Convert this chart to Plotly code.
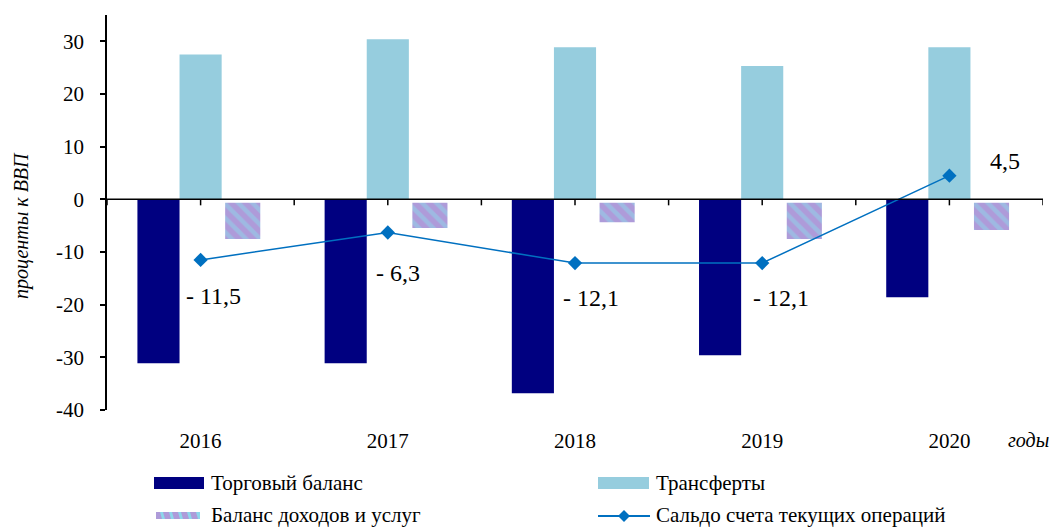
import plotly.graph_objects as go

# ---- data ----
years = ['2016', '2017', '2018', '2019', '2020']
trade_balance = [-31.1, -31.1, -36.8, -29.6, -18.6]
transfers = [27.5, 30.4, 28.9, 25.3, 28.9]
income_services = [-8.2, -6.1, -5.0, -8.2, -6.5]
current_account = [-11.5, -6.3, -12.1, -12.1, 4.5]
y_ticks = [-40, -30, -20, -10, 0, 10, 20, 30]

names = ['Торговый баланс', 'Трансферты', 'Баланс доходов и услуг', 'Сальдо счета текущих операций']

# ---- styling ----
W, H = 1061, 527
L, R, T, B = 107, 18, 15, 117
PW, PH = W - L - R, H - T - B
FONT = '"Times New Roman", "Liberation Serif", serif'
NAVY = '#000080'
LBLUE = '#96CDDE'
LAV = '#AE9BD9'
CYAN = '#8DD7EB'
LINEC = '#0070C0'

idx = list(range(len(years)))
bw = 0.225

fig = go.Figure()
fig.add_trace(go.Bar(x=idx, y=income_services, width=bw, offset=bw / 2, name=names[2],
                     marker=dict(color=LAV, line=dict(color='white', width=7),
                                 pattern=dict(shape='\\', fgcolor=CYAN, size=10, solidity=0.45))))
fig.add_trace(go.Bar(x=idx, y=trade_balance, width=bw, offset=-1.5 * bw, name=names[0],
                     marker=dict(color=NAVY, line=dict(width=0))))
fig.add_trace(go.Bar(x=idx, y=transfers, width=bw, offset=-bw / 2, name=names[1],
                     marker=dict(color=LBLUE, line=dict(width=0))))
fig.add_trace(go.Scatter(x=idx, y=current_account, mode='lines+markers', name=names[3],
                         line=dict(color=LINEC, width=1.5),
                         marker=dict(symbol='diamond', size=11, color=LINEC)))

shapes = []
# x axis line at zero with ticks
shapes.append(dict(type='line', xref='x', yref='y', x0=-0.5, x1=len(years) - 0.5, y0=0, y1=0,
                   line=dict(color='black', width=1.5), layer='above'))
for k in range(2 * len(years) + 1):
    t = -0.5 + k * 0.5
    shapes.append(dict(type='line', xref='x', yref='y', ysizemode='pixel', yanchor=0,
                       x0=t, x1=t, y0=0, y1=-6, line=dict(color='black', width=1.5), layer='above'))


def px(xp):
    return (xp - L) / PW


def py(yp):
    return (H - B - yp) / PH


# manual legend
shapes.append(dict(type='rect', xref='paper', yref='paper', x0=px(154), x1=px(204), y0=py(489), y1=py(477),
                   fillcolor=NAVY, line=dict(width=0)))
shapes.append(dict(type='rect', xref='paper', yref='paper', x0=px(598), x1=px(649), y0=py(489), y1=py(477),
                   fillcolor=LBLUE, line=dict(width=0)))
shapes.append(dict(type='rect', xref='paper', yref='paper', x0=px(156), x1=px(200), y0=py(519), y1=py(512),
                   fillcolor=CYAN, line=dict(width=0)))
for s in range(156, 200, 9):
    shapes.append(dict(type='path', xref='paper', yref='paper',
                       path=f'M {px(s)} {py(519)} L {px(s + 6)} {py(519)} L {px(s + 4)} {py(512)} L {px(s - 2) if s > 156 else px(s)} {py(512)} Z',
                       fillcolor=LAV, line=dict(width=0)))
shapes.append(dict(type='line', xref='paper', yref='paper', x0=px(598), x1=px(650), y0=py(516), y1=py(516),
                   line=dict(color=LINEC, width=2)))
cx, cy, d = 624, 516, 6
shapes.append(dict(type='path', xref='paper', yref='paper',
                   path=f'M {px(cx - d)} {py(cy)} L {px(cx)} {py(cy - d)} L {px(cx + d)} {py(cy)} L {px(cx)} {py(cy + d)} Z',
                   fillcolor=LINEC, line=dict(width=0)))

annotations = []
legend_text = [(209, 483, names[0]), (654, 483, names[1]), (209, 515, names[2]), (654, 515, names[3])]
for xp, yp, txt in legend_text:
    annotations.append(dict(xref='paper', yref='paper', x=px(xp), y=py(yp), text=txt, showarrow=False,
                            xanchor='left', yanchor='middle', font=dict(family=FONT, size=21, color='black')))


def fmt(v):
    s = f'{abs(v):.1f}'.replace('.', ',')
    return f'- {s}' if v < 0 else s


label_shift = [(-17, -36), (-14, -40), (-14, -35), (-11, -35), (39, 15)]
for i, v in enumerate(current_account):
    dx, dy = label_shift[i]
    annotations.append(dict(xref='x', yref='y', x=idx[i], y=v, text=fmt(v), showarrow=False,
                            xanchor='left', yanchor='middle', xshift=dx, yshift=dy,
                            font=dict(family=FONT, size=24, color='black')))

annotations.append(dict(xref='paper', yref='paper', x=px(22), y=py(226), text='<i>проценты к ВВП</i>',
                        textangle=-90, showarrow=False, xanchor='center', yanchor='middle',
                        font=dict(family=FONT, size=20, color='black')))
annotations.append(dict(xref='paper', yref='paper', x=px(1028), y=py(440), text='<i>годы</i>',
                        showarrow=False, xanchor='center', yanchor='middle',
                        font=dict(family=FONT, size=20, color='black')))

fig.update_layout(
    width=W, height=H, margin=dict(l=L, r=R, t=T, b=B, autoexpand=False),
    paper_bgcolor='white', plot_bgcolor='white',
    barmode='overlay', showlegend=False,
    font=dict(family=FONT, color='black'),
    shapes=shapes, annotations=annotations,
    xaxis=dict(range=[-0.5, len(years) - 0.5], tickvals=idx, ticktext=years, showline=False,
               showgrid=False, zeroline=False, ticks='', ticklabelstandoff=16,
               tickfont=dict(family=FONT, size=21, color='black')),
    yaxis=dict(range=[-40, 35], tickvals=y_ticks, ticktext=[str(v) for v in y_ticks], showline=True,
               linecolor='black', linewidth=1.5, ticks='outside', ticklen=5, tickcolor='black',
               tickwidth=1.5, showgrid=False, zeroline=False, ticklabelstandoff=12,
               tickfont=dict(family=FONT, size=21, color='black')),
)

fig.write_html('out.html', config={'displayModeBar': False},
               post_script="document.body.style.margin='0';document.body.style.padding='0';")
